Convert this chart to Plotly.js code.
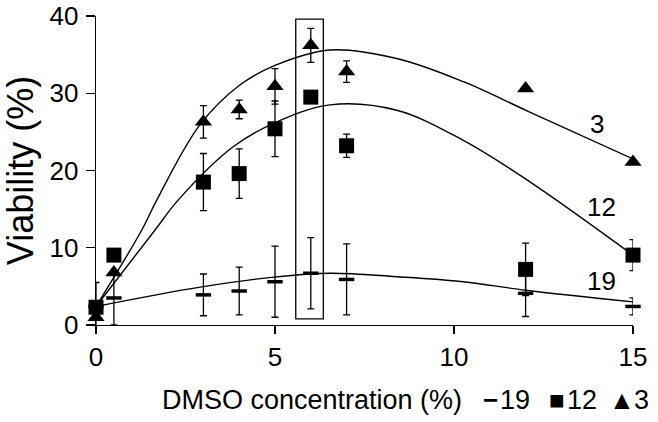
<!DOCTYPE html>
<html>
<head>
<meta charset="utf-8">
<script src="https://cdn.plot.ly/plotly-3.0.1.min.js"></script>
<style>html,body{margin:0;padding:0;background:#fff;}#chart{width:658px;height:422px;}</style>
</head>
<body>
<div id="chart"></div>
<script>
// DMSO concentration (%)
const dmso = [0, 0.5, 3, 4, 5, 6, 7, 12, 15];

// Series "3" (triangles)
const via3 = [1.0, 6.8, 26.3, 27.9, 30.9, 36.2, 32.8, 30.6, 21.1];
const err3 = [null, null, 2.1, 1.2, 2.3, 2.2, 1.4, null, null];

// Series "12" (squares)
const via12 = [2.3, 9.05, 18.5, 19.6, 25.4, 29.5, 23.2, 7.2, 9.05];
const err12 = [null, 0.6, 3.7, 3.2, 3.6, null, 1.5, 3.4, 2.0];

// Series "19" (dashes)
const via19 = [2.4, 3.5, 3.9, 4.4, 5.6, 6.7, 5.9, 4.1, 2.4];
const err19 = [3.1, 3.5, 2.7, 3.1, 4.6, 4.6, 4.6, 3.0, 1.1];

// Fitted curves
const fit3x = [0, 1.28, 1.7, 2.9, 4.0, 5.0, 6.54, 8.4, 10.26, 12.1, 15];
const fit3y = [2.4, 12.3, 16.2, 25.9, 31.0, 33.6, 35.6, 34.5, 31.5, 27.6, 21.5];
const fit12x = [0, 1.65, 2.3, 3.84, 4.96, 6.54, 8.4, 10.26, 12.1, 15];
const fit12y = [2.4, 12.3, 16.2, 23.1, 26.1, 28.5, 27.8, 23.9, 18.6, 9.05];
const fit19x = [0, 2.91, 4.98, 6.54, 8.4, 10.26, 12.0, 15];
const fit19y = [2.4, 4.9, 6.2, 6.7, 6.25, 5.6, 4.5, 3.0];

// Curve labels
const curveLabels = ['3', '12', '19'];
const curveLabelX = [13.99, 14.13, 14.13];
const curveLabelY = [26.0, 15.3, 5.65];

// Legend (typed inline after the x title in the original)
const legendSymbols = ['<b>\u2212</b>', '\u25A0', '\u25B2'];
const legendNames = ['19', '12', '3'];

// Axis ticks
const xTicks = [0, 5, 10, 15];
const yTicks = [0, 10, 20, 30, 40];

// Highlight box (data units)
const boxX = [5.58, 6.35];
const boxY = [0.78, 39.6];

const FONT = 'Liberation Sans, Arial, Helvetica, sans-serif';
const M = {l: 96, r: 25, t: 16, b: 97};
const PW = 658 - M.l - M.r, PH = 422 - M.t - M.b;
const px = v => (v - M.l) / PW;
const py = v => (422 - M.b - v) / PH;

function fitTrace(x, y) {
  return {x: x, y: y, type: 'scatter', mode: 'lines', line: {color: '#000', width: 1.4, shape: 'spline', smoothing: 1}, showlegend: false, hoverinfo: 'skip'};
}
function errObj(arr) {
  return {type: 'data', array: arr, visible: true, color: '#000', thickness: 1.3, width: 3.5};
}

const traces = [
  fitTrace(fit3x, fit3y),
  fitTrace(fit12x, fit12y),
  fitTrace(fit19x, fit19y),
  {x: dmso, y: via19, name: '19', type: 'scatter', mode: 'markers', cliponaxis: false,
   marker: {symbol: 'line-ew', size: 11, color: '#000', line: {color: '#000', width: 3.5}},
   error_y: errObj(err19)},
  {x: dmso, y: via12, name: '12', type: 'scatter', mode: 'markers', cliponaxis: false,
   marker: {symbol: 'square', size: 15, color: '#000'},
   error_y: errObj(err12)},
  {x: dmso, y: via3, name: '3', type: 'scatter', mode: 'markers', cliponaxis: false,
   marker: {symbol: 'triangle-up', size: 15, color: '#000'},
   error_y: errObj(err3)}
];

const txtY = py(400);
const annotations = curveLabels.map((t, i) => ({
  x: curveLabelX[i], y: curveLabelY[i], xref: 'x', yref: 'y', text: t, showarrow: false,
  font: {family: FONT, size: 26, color: '#000'}, xanchor: 'center', yanchor: 'middle'
}));
annotations.push({
  xref: 'paper', yref: 'paper', x: px(160), y: txtY, xanchor: 'left', yanchor: 'middle', showarrow: false,
  text: 'DMSO concentration (%)', font: {family: FONT, size: 27, color: '#000'}
});
const symCenters = [490.5, 556.5, 621.5];
const nameLefts = [498, 565, 632];
legendSymbols.forEach((s, i) => {
  annotations.push({xref: 'paper', yref: 'paper', x: px(symCenters[i]), y: txtY, xanchor: 'center', yanchor: 'middle',
    showarrow: false, text: s, font: {family: FONT, size: 26, color: '#000'}});
  annotations.push({xref: 'paper', yref: 'paper', x: px(nameLefts[i]), y: txtY, xanchor: 'left', yanchor: 'middle',
    showarrow: false, text: legendNames[i], font: {family: FONT, size: 27, color: '#000'}});
});

const layout = {
  width: 658, height: 422,
  margin: M,
  paper_bgcolor: '#fff', plot_bgcolor: '#fff',
  showlegend: false,
  font: {family: FONT, color: '#000', size: 26},
  xaxis: {range: [0, 15], tickvals: xTicks, ticktext: xTicks.map(String), showgrid: false, zeroline: false,
          showline: true, linecolor: '#000', linewidth: 1.4, ticks: 'outside', ticklen: 8, tickwidth: 1.4, tickcolor: '#000',
          tickfont: {family: FONT, size: 26, color: '#000'}, ticklabelstandoff: 0},
  yaxis: {range: [0, 40], tickvals: yTicks, ticktext: yTicks.map(String), showgrid: false, zeroline: false,
          showline: true, linecolor: '#000', linewidth: 1.4, ticks: 'outside', ticklen: 9, tickwidth: 1.4, tickcolor: '#000',
          tickfont: {family: FONT, size: 26, color: '#000'}, ticklabelstandoff: 2,
          title: {text: 'Viability (%)', font: {family: FONT, size: 36, color: '#000'}, standoff: 6}},
  shapes: [{type: 'rect', xref: 'x', yref: 'y', x0: boxX[0], x1: boxX[1], y0: boxY[0], y1: boxY[1],
            line: {color: '#000', width: 1.3}, fillcolor: 'rgba(0,0,0,0)'}],
  annotations: annotations
};

Plotly.newPlot('chart', traces, layout, {staticPlot: true});
</script>
</body>
</html>
